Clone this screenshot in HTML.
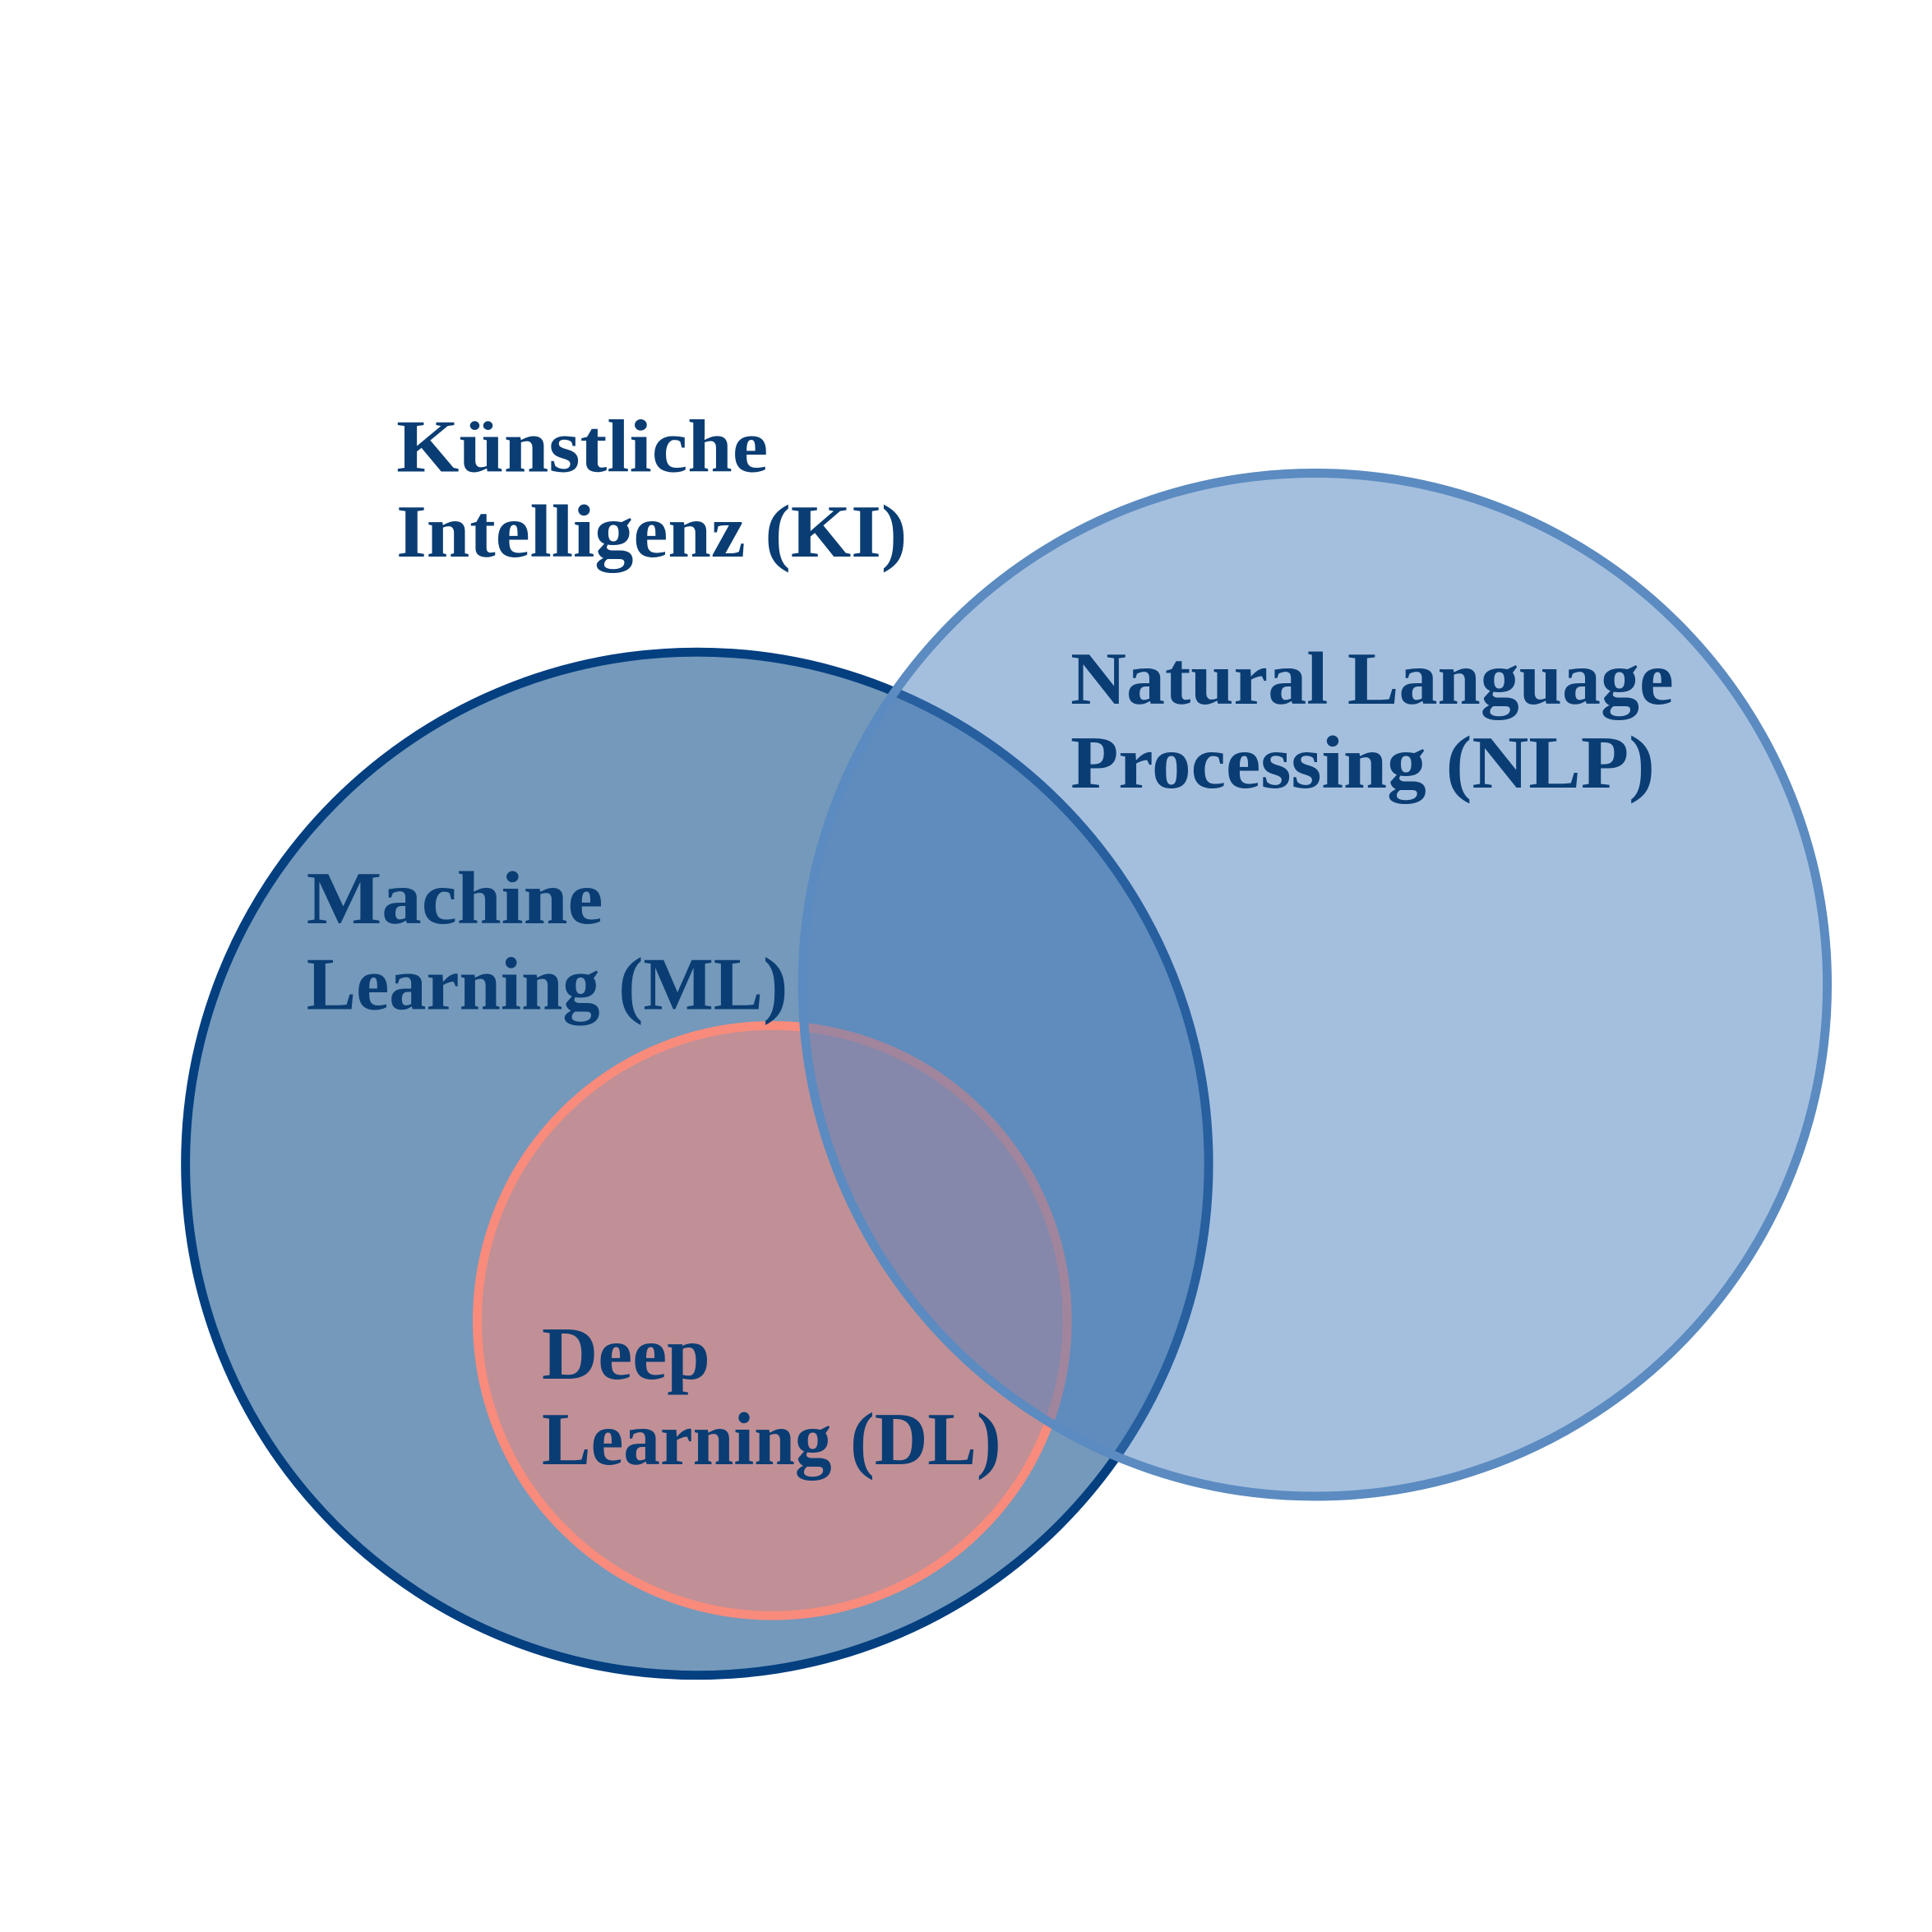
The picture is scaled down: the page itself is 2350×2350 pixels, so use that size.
<!DOCTYPE html>
<html><head><meta charset="utf-8"><style>html,body{margin:0;padding:0;background:#fff}svg{display:block}</style></head>
<body>
<svg width="2350" height="2350" viewBox="0 0 2350 2350" xmlns="http://www.w3.org/2000/svg">
<rect width="2350" height="2350" fill="#fff"/>
<g transform="scale(0.994)">
<circle cx="853" cy="1424" r="626" fill="#7499bb" stroke="#043f80" stroke-width="11"/>
<circle cx="945" cy="1616" r="361" fill="#c09096" stroke="#f98b7c" stroke-width="11"/>
<ellipse cx="1609" cy="1205" rx="627" ry="626" fill="rgb(74,128,190)" fill-opacity="0.5" stroke="#5b8bc0" stroke-width="11"/>
<g font-family="'Liberation Serif', serif" font-weight="bold" font-size="92" fill="#0a3d73">
<text x="485" y="577" textLength="455" lengthAdjust="spacingAndGlyphs">Künstliche</text>
<text x="485" y="681" textLength="625" lengthAdjust="spacingAndGlyphs">Intelligenz (KI)</text>
<text x="1310" y="861" textLength="738" lengthAdjust="spacingAndGlyphs">Natural Language</text>
<text x="1310" y="964" textLength="715" lengthAdjust="spacingAndGlyphs">Processing (NLP)</text>
<text x="375" y="1130" textLength="363" lengthAdjust="spacingAndGlyphs">Machine</text>
<text x="375" y="1235" textLength="589" lengthAdjust="spacingAndGlyphs">Learning (ML)</text>
<text x="663" y="1687" textLength="206" lengthAdjust="spacingAndGlyphs">Deep</text>
<text x="663" y="1792" textLength="562" lengthAdjust="spacingAndGlyphs">Learning (DL)</text>
</g>
</g>
</svg>
</body></html>
